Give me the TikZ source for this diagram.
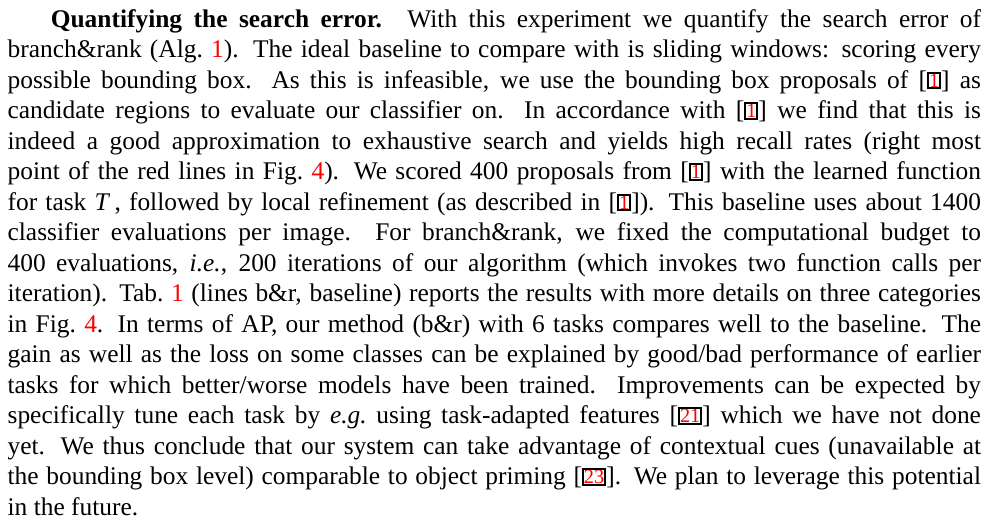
\documentclass[tikz,border=0pt]{standalone}
\usepackage{fontspec}
\setmainfont{Liberation Serif}
\usepackage{xcolor}

% red reference numbers, and boxed citation links
\newcommand{\refnum}[1]{\textcolor{red}{#1}}
\newcommand{\citebox}[1]{{\setlength{\fboxsep}{0pt}\setlength{\fboxrule}{0.8pt}%
  \raisebox{0.4pt}{\fbox{\fontsize{8pt}{8pt}\selectfont\textcolor{red}{#1}}}}}

\tikzset{
  para/.style={anchor=north west, inner sep=0pt, text width=383pt, align=justify,
    font=\fontsize{10pt}{12pt}\selectfont}
}

\begin{document}
\begin{tikzpicture}
\useasboundingbox (0,0) rectangle (391.5pt,-207.4pt);
\node[para] (text) at (2.8pt,-3.4pt) {\tolerance=9999\hyphenpenalty=10000\hbadness=10000%
\hspace*{17pt}\textbf{Quantifying the search error.}\hspace{1em}With this experiment we quantify the search error of\linebreak
branch\&rank (Alg.~\refnum{1}). The ideal baseline to compare with is sliding windows: scoring every\linebreak
possible bounding box. As this is infeasible, we use the bounding box proposals of [\citebox{1}] as\linebreak
candidate regions to evaluate our classifier on. In accordance with [\citebox{1}] we find that this is\linebreak
indeed a good approximation to exhaustive search and yields high recall rates (right most\linebreak
point of the red lines in Fig.~\refnum{4}). We scored 400 proposals from [\citebox{1}] with the learned function\linebreak
for task \textit{T}\,, followed by local refinement (as described in [\citebox{1}]). This baseline uses about 1400\linebreak
classifier evaluations per image. For branch\&rank, we fixed the computational budget to\linebreak
400 evaluations, \textit{i.e.}, 200 iterations of our algorithm (which invokes two function calls per\linebreak
iteration). Tab.~\refnum{1} (lines b\&r, baseline) reports the results with more details on three categories\linebreak
in Fig.~\refnum{4}. In terms of AP, our method (b\&r) with 6 tasks compares well to the baseline. The\linebreak
gain as well as the loss on some classes can be explained by good/bad performance of earlier\linebreak
tasks for which better/worse models have been trained. Improvements can be expected by\linebreak
specifically tune each task by \textit{e.g.}\ using task-adapted features [\citebox{21}] which we have not done\linebreak
yet. We thus conclude that our system can take advantage of contextual cues (unavailable at\linebreak
the bounding box level) comparable to object priming [\citebox{23}]. We plan to leverage this potential\linebreak
in the future.};
\end{tikzpicture}
\end{document}
